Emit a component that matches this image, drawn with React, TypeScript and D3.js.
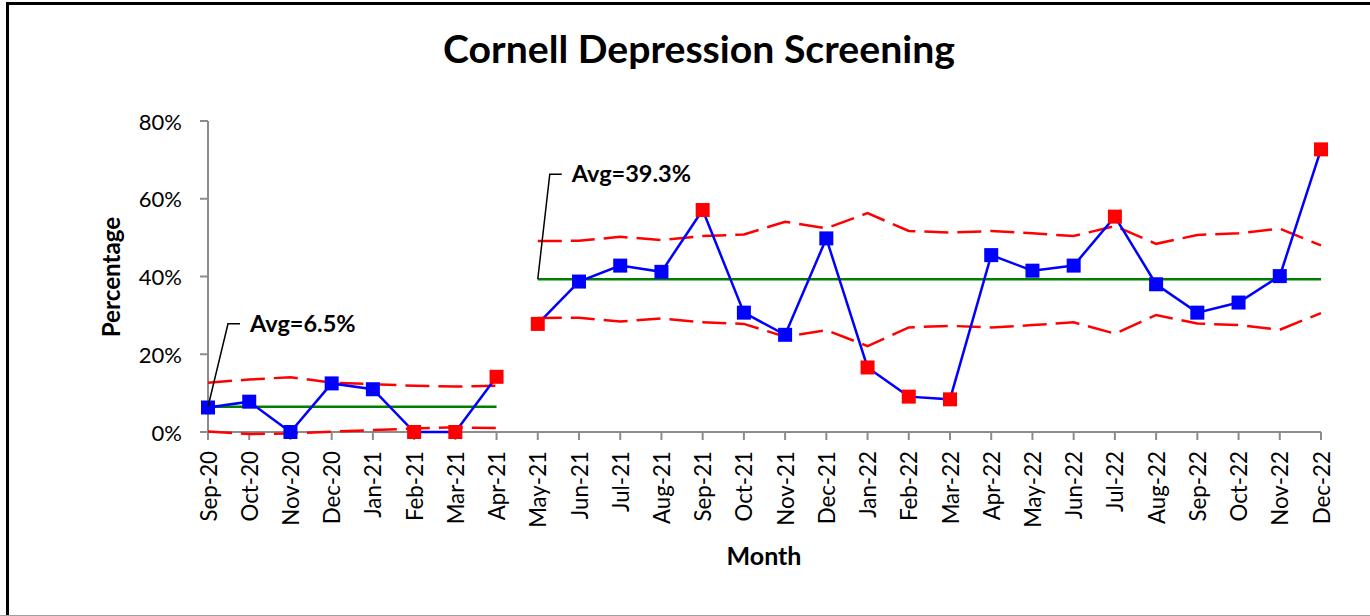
import React from "react";
import * as d3 from "d3";

const months = [
  "Sep-20", "Oct-20", "Nov-20", "Dec-20", "Jan-21", "Feb-21", "Mar-21", "Apr-21",
  "May-21", "Jun-21", "Jul-21", "Aug-21", "Sep-21", "Oct-21", "Nov-21", "Dec-21",
  "Jan-22", "Feb-22", "Mar-22", "Apr-22", "May-22", "Jun-22", "Jul-22", "Aug-22",
  "Sep-22", "Oct-22", "Nov-22", "Dec-22",
];

// percentage values per month
const percentValues = [
  6.3, 7.8, 0.0, 12.5, 11.0, 0.0, 0.0, 14.2,
  27.8, 38.7, 42.8, 41.2, 57.1, 30.7, 25.0, 49.8,
  16.6, 9.1, 8.4, 45.5, 41.5, 42.8, 55.4, 38.0,
  30.7, 33.3, 40.1, 72.7,
];

const uclValues = [
  12.7, 13.5, 14.1, 12.7, 12.3, 11.9, 11.7, 11.9,
  49.1, 49.2, 50.2, 49.4, 50.4, 50.8, 54.1, 52.4,
  56.3, 51.7, 51.3, 51.7, 51.1, 50.4, 53.0, 48.4,
  50.7, 51.1, 52.3, 48.0,
];

const lclValues = [
  0.1, -0.5, -0.4, 0.1, 0.5, 0.9, 1.2, 1.0,
  29.3, 29.4, 28.4, 29.2, 28.2, 27.8, 24.5, 26.2,
  22.1, 26.9, 27.3, 26.9, 27.5, 28.2, 25.3, 30.1,
  27.9, 27.5, 26.3, 30.6,
];

// phases: [start index, end index inclusive]
const phaseRanges: [number, number][] = [[0, 7], [8, 27]];
const phaseAverages = [6.5, 39.3];
const phaseLabels = ["Avg=6.5%", "Avg=39.3%"];

const yTickValues = [0, 20, 40, 60, 80];

const W = 1370;
const H = 616;
const FONT = "Lato, 'Open Sans', sans-serif";

export default function App() {
  const x = d3.scalePoint<string>().domain(months).range([208, 1321]);
  const y = d3.scaleLinear().domain([0, 80]).range([432, 121]);

  const segPath = (arr: number[], [a, b]: [number, number]) =>
    d3
      .line<number>()
      .x((i) => x(months[i]) as number)
      .y((i) => y(arr[i]))(d3.range(a, b + 1)) as string;

  const annot = [
    { dx: 20, dy: -83 },
    { dx: 12, dy: -105 },
  ];

  const markerSize = 14;

  return (
    <svg
      width={W}
      height={H}
      style={{ position: "absolute", left: 0, top: 0, background: "#fff" }}
      fontFamily={FONT}
    >
      <rect x={0} y={0} width={W} height={H} fill="#fff" />
      {/* border */}
      <path d={`M7.5,${H} V3.5 H${W}`} fill="none" stroke="#000" strokeWidth={3} />
      <line x1={0} x2={W} y1={H - 0.5} y2={H - 0.5} stroke="#a0a0a0" strokeWidth={1} />

      {/* title */}
      <text
        x={699}
        y={63}
        textAnchor="middle"
        fontSize={38}
        fontWeight="bold"
        textLength={512}
        lengthAdjust="spacingAndGlyphs"
        fill="#000"
      >
        Cornell Depression Screening
      </text>

      {/* y axis */}
      <line x1={208} x2={208} y1={y(80)} y2={y(0)} stroke="#8c8c8c" strokeWidth={2} />
      {yTickValues.map((t) => (
        <g key={t}>
          <line x1={200} x2={208} y1={y(t)} y2={y(t)} stroke="#8c8c8c" strokeWidth={2} />
          <text x={182} y={y(t)} textAnchor="end" dominantBaseline="central" fontSize={22} fill="#000">
            {t}%
          </text>
        </g>
      ))}

      {/* x axis */}
      <line x1={x(months[0])} x2={x(months[months.length - 1])} y1={y(0)} y2={y(0)} stroke="#8c8c8c" strokeWidth={2} />
      {months.map((m) => (
        <g key={m}>
          <line x1={x(m)} x2={x(m)} y1={y(0)} y2={y(0) + 8} stroke="#8c8c8c" strokeWidth={2} />
          <text
            transform={`translate(${x(m)},${y(0) + 19}) rotate(-90)`}
            textAnchor="end"
            dominantBaseline="central"
            fontSize={22.3}
            fill="#000"
          >
            {m}
          </text>
        </g>
      ))}

      {/* axis titles */}
      <text transform="translate(120,277) rotate(-90)" textAnchor="middle" fontSize={24.2} fontWeight="bold" fill="#000">
        Percentage
      </text>
      <text x={764} y={565} textAnchor="middle" fontSize={25} fontWeight="bold" fill="#000">
        Month
      </text>

      {/* control limits & averages */}
      {phaseRanges.map((r, p) => {
        const avgArr = months.map(() => phaseAverages[p]);
        return (
          <g key={"lim" + p}>
            <path d={segPath(uclValues, r)} fill="none" stroke="#ff0000" strokeWidth={2.5} strokeDasharray="24,9" />
            <path d={segPath(lclValues, r)} fill="none" stroke="#ff0000" strokeWidth={2.5} strokeDasharray="24,9" />
            <path d={segPath(avgArr, r)} fill="none" stroke="#008000" strokeWidth={2.5} />
          </g>
        );
      })}

      {/* data lines */}
      {phaseRanges.map((r, p) => (
        <path key={"d" + p} d={segPath(percentValues, r)} fill="none" stroke="#0000ff" strokeWidth={2.5} />
      ))}

      {/* markers */}
      {percentValues.map((v, i) => {
        const out = v > uclValues[i] || v < lclValues[i];
        return (
          <rect
            key={"m" + i}
            x={(x(months[i]) as number) - markerSize / 2}
            y={y(v) - markerSize / 2}
            width={markerSize}
            height={markerSize}
            fill={out ? "#ff0000" : "#0000ff"}
          />
        );
      })}

      {/* average annotations */}
      {phaseRanges.map((r, p) => {
        const ax = x(months[r[0]]) as number;
        const ay = y(phaseAverages[p]);
        const ex = ax + annot[p].dx;
        const ey = ay + annot[p].dy;
        return (
          <g key={"a" + p}>
            <path d={`M${ax},${ay} L${ex},${ey} H${ex + 12}`} fill="none" stroke="#000" strokeWidth={1.5} />
            <text x={ex + 22} y={ey + 8} fontSize={23.5} fontWeight="bold" fill="#000">
              {phaseLabels[p]}
            </text>
          </g>
        );
      })}
    </svg>
  );
}
